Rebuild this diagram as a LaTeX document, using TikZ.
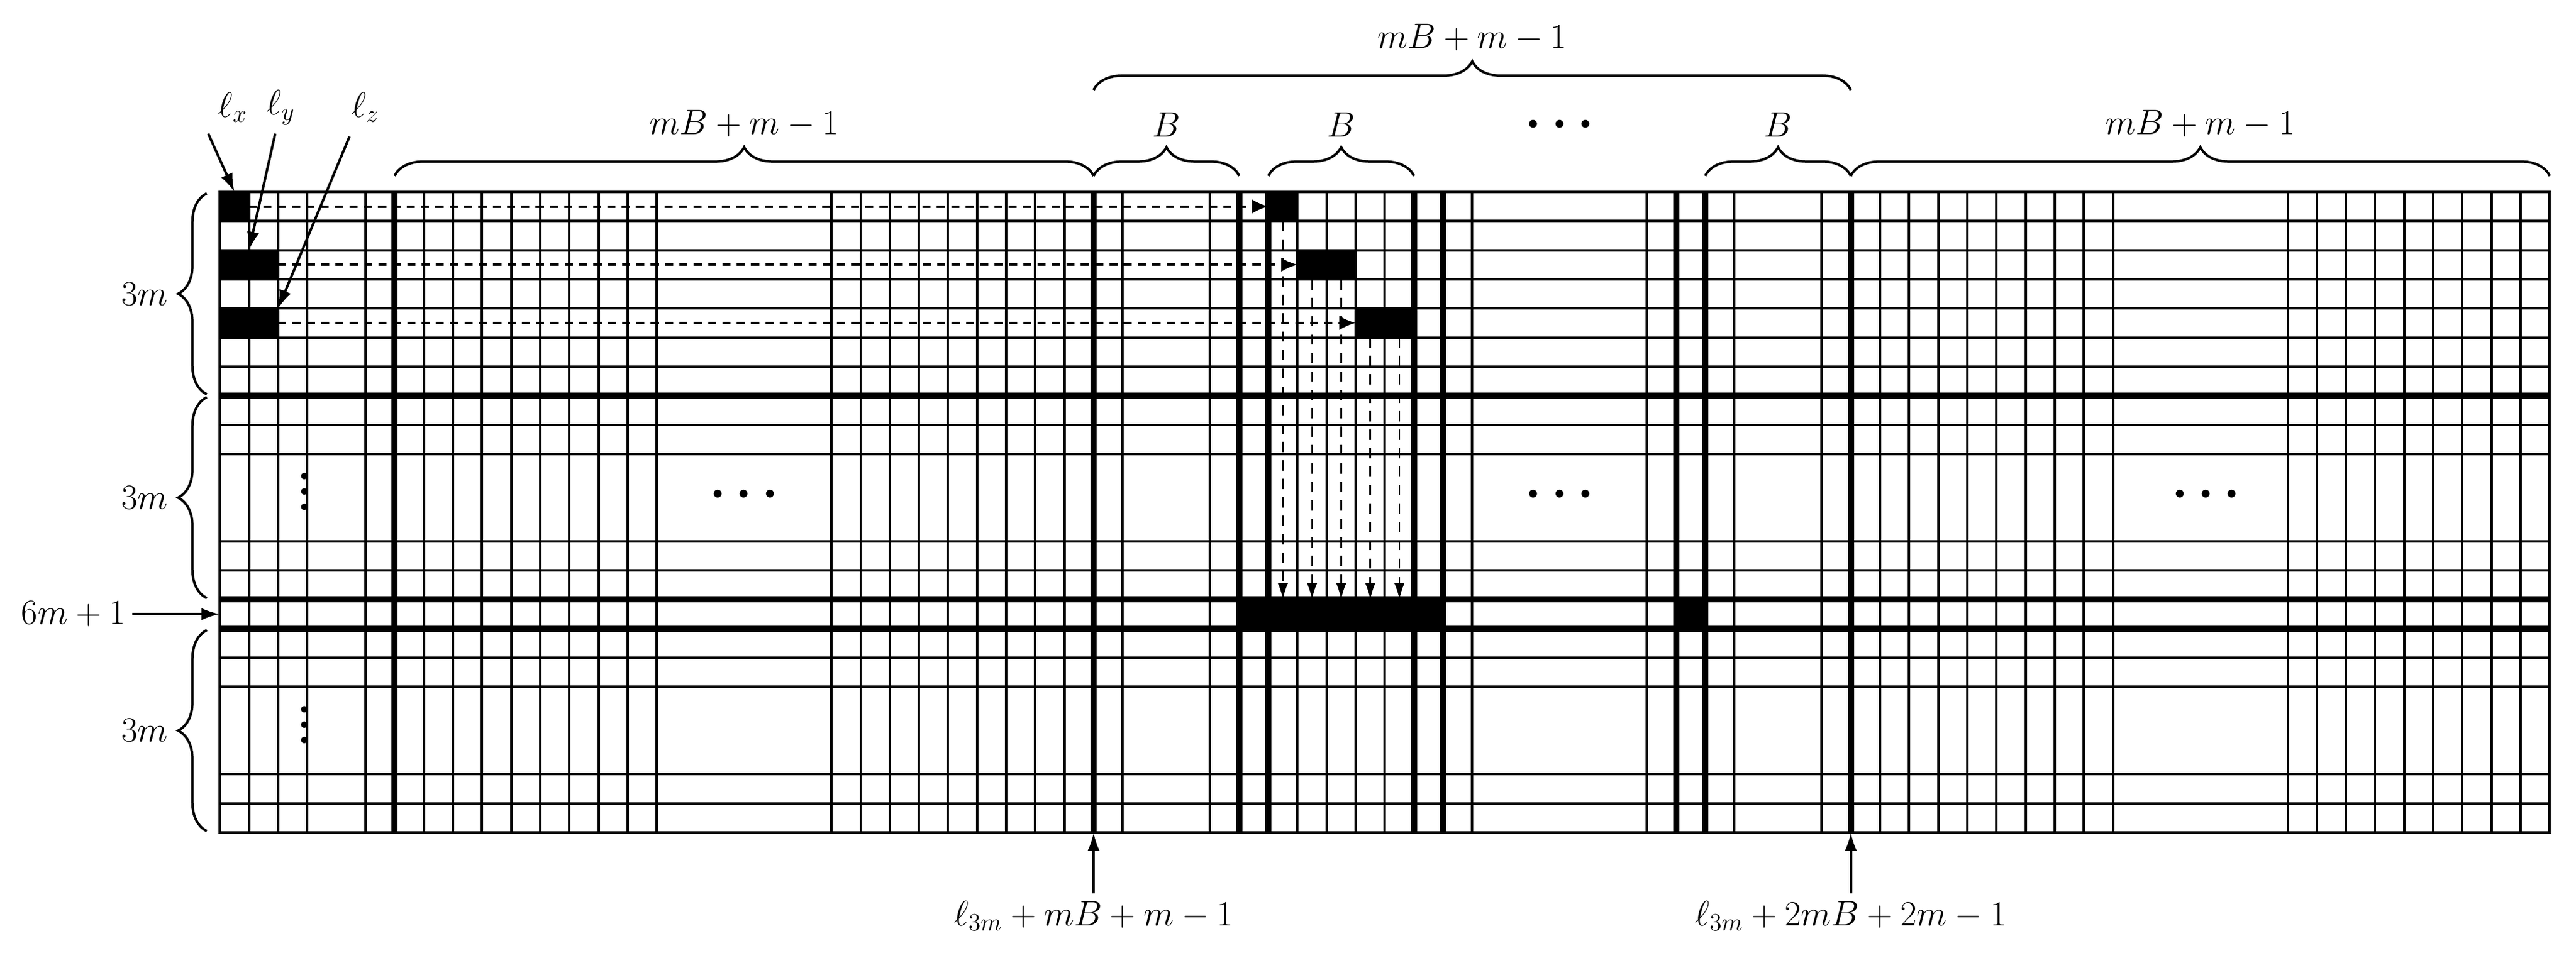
\documentclass[tikz,border=0pt]{standalone}
\usetikzlibrary{arrows.meta,decorations.pathreplacing}
\newcommand{\myvdots}{\vbox{\baselineskip=7.5pt\lineskiplimit=-20pt\hbox{\textbf{.}}\hbox{\textbf{.}}\hbox{\textbf{.}}}}
\begin{document}
\begin{tikzpicture}[x=0.5cm,y=-0.5cm,
  thin line/.style={line width=1.2pt},
  thick line/.style={line width=3pt},
  harrow/.style={line width=1.2pt,dash pattern=on 4pt off 3pt,-{Latex[length=8pt,width=7pt]}},
  varrow/.style={line width=0.8pt,dash pattern=on 5pt off 4pt,-{Latex[length=8pt,width=5pt]}},
  larrow/.style={line width=1.2pt,-{Latex[length=9pt,width=6pt]}},
  brc/.style={decorate,decoration={brace,amplitude=14pt},line width=1.2pt},
  lbl/.style={font=\fontsize{18}{20}\selectfont},
  dts/.style={font=\fontsize{26}{28}\selectfont\boldmath},
  vdts/.style={font=\fontsize{22}{24}\selectfont,inner sep=0pt},
  blk/.style={fill=black}]
\useasboundingbox (-7.55,-6.59) rectangle (80.9,26.3);
% grid
\foreach \c in {1,2,3,5,7,8,9,10,11,12,13,14,15,21,22,23,24,25,26,27,28,29,31,34,37,38,39,40,43,49,52,55,57,58,59,60,61,62,63,64,65,71,72,73,74,75,76,77,78,79}
  \draw[thin line] (\c,0) -- (\c,22);
\foreach \r in {1,2,3,4,5,6,8,9,12,13,16,17,20,21}
  \draw[thin line] (0,\r) -- (80,\r);
\foreach \c in {6,30,35,36,41,42,50,51,56}
  \draw[thick line] (\c,0) -- (\c,22);
\foreach \r in {7,14,15}
  \draw[thick line] (0,\r) -- (80,\r);
\draw[thin line] (0,0) rectangle (80,22);
% black blocks
\fill[blk] (0,0) rectangle (1,1);
\fill[blk] (0,2) rectangle (2,3);
\fill[blk] (0,4) rectangle (2,5);
\fill[blk] (36,0) rectangle (37,1);
\fill[blk] (37,2) rectangle (39,3);
\fill[blk] (39,4) rectangle (41,5);
\fill[blk] (35,14) rectangle (42,15);
\fill[blk] (50,14) rectangle (51,15);
% coordinates
\coordinate (sx) at (1,0.5); \coordinate (tx) at (36,0.5);
\coordinate (sy) at (2,2.5); \coordinate (ty) at (37,2.5);
\coordinate (sz) at (2,4.5); \coordinate (tz) at (39,4.5);
\draw[harrow] (sx) -- (tx);
\draw[harrow] (sy) -- (ty);
\draw[harrow] (sz) -- (tz);
\foreach \c/\s in {36.5/1,37.5/3,38.5/3,39.5/5,40.5/5}{
  \coordinate (va) at (\c,\s); \coordinate (vb) at (\c,14);
  \draw[varrow] (va) -- (vb);}
% l labels
\node[lbl] (lx) at (0.45,-2.9) {$\ell_x$};
\node[lbl] (ly) at (2.1,-2.9) {$\ell_y$};
\node[lbl] (lz) at (5.0,-2.9) {$\ell_z$};
\coordinate (ex) at (0.5,0); \coordinate (ey) at (1,2); \coordinate (ez) at (2,4);
\draw[larrow] (-0.4,-2.0) -- (ex);
\draw[larrow] (1.9,-2.0) -- (ey);
\draw[larrow] (4.45,-1.9) -- (ez);
% top braces
\draw[brc] (6,-0.55) -- node[lbl,above=15pt] {$mB+m-1$} (30,-0.55);
\draw[brc] (30,-0.55) -- node[lbl,above=15pt] {$B$} (35,-0.55);
\draw[brc] (36,-0.55) -- node[lbl,above=15pt] {$B$} (41,-0.55);
\draw[brc] (51,-0.55) -- node[lbl,above=15pt] {$B$} (56,-0.55);
\draw[brc] (56,-0.55) -- node[lbl,above=15pt] {$mB+m-1$} (80,-0.55);
\node[dts] (tdots) at (46,-2.3) {$\cdots$};
\draw[brc] (30,-3.5) -- node[lbl,above=15pt] {$mB+m-1$} (56,-3.5);
% left braces
\draw[brc] (-0.45,6.95) -- node[lbl,left=15pt] {$3m$} (-0.45,0.05);
\draw[brc] (-0.45,13.95) -- node[lbl,left=15pt] {$3m$} (-0.45,7.05);
\draw[brc] (-0.45,21.95) -- node[lbl,left=15pt] {$3m$} (-0.45,15.05);
\node[lbl,anchor=east] (six) at (-3,14.5) {$6m+1$};
\coordinate (sixe) at (0,14.5);
\draw[larrow] (six) -- (sixe);
% dots
\node[vdts] (vd1) at (2.9,10.3) {\myvdots};
\node[vdts] (vd2) at (2.9,18.3) {\myvdots};
\node[dts] (hd1) at (18,10.4) {$\cdots$};
\node[dts] (hd2) at (46,10.4) {$\cdots$};
\node[dts] (hd3) at (68.2,10.4) {$\cdots$};
% bottom arrows
\node[lbl,anchor=north] (b1) at (30,24.1) {$\ell_{3m}+mB+m-1$};
\node[lbl,anchor=north] (b2) at (56,24.1) {$\ell_{3m}+2mB+2m-1$};
\coordinate (b1e) at (30,22); \coordinate (b2e) at (56,22);
\draw[larrow] (b1.north) -- (b1e);
\draw[larrow] (b2.north) -- (b2e);
\end{tikzpicture}
\end{document}
